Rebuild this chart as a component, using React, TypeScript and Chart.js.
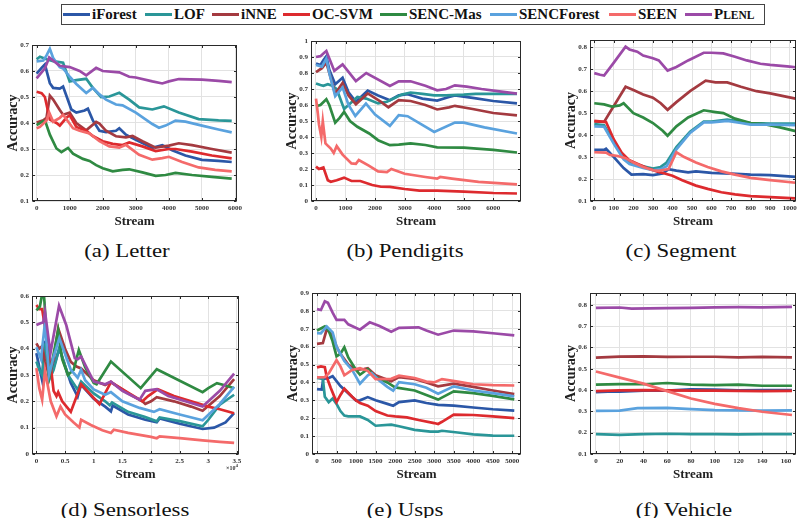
import React, { useEffect, useRef } from "react";
import { Chart, registerables } from "chart.js";
Chart.register(...registerables);

const SERIES = ["iForest", "LOF", "iNNE", "OC-SVM", "SENC-Mas", "SENCForest", "SEEN", "PLENL"];
const COLORS = ["#2b57a7", "#2a9698", "#a43a40", "#dd2a2e", "#2f8a42", "#5aa2de", "#f46a6a", "#9b4aa7"];
const SERIF = "'Liberation Serif', 'Times New Roman', serif";

type Pts = number[][];

// x tick values of each panel
const letterXTicks = [0, 1000, 2000, 3000, 4000, 5000, 6000];
const pendXTicks = [0, 1000, 2000, 3000, 4000, 5000, 6000];
const segXTicks = [0, 100, 200, 300, 400, 500, 600, 700, 800, 900, 1000];
const sensXTicks = [0, 0.5, 1, 1.5, 2, 2.5, 3, 3.5];
const uspsXTicks = [0, 500, 1000, 1500, 2000, 2500, 3000, 3500, 4000, 4500, 5000];
const vehXTicks = [0, 20, 40, 60, 80, 100, 120, 140, 160];

// ---------- (a) Letter ----------
const letterIForest: Pts = [[0,.59],[150,.612],[250,.625],[400,.553],[500,.535],[700,.532],[800,.54],[1050,.452],[1200,.44],[1450,.448],[1550,.455],[1700,.41],[1900,.37],[2100,.365],[2400,.37],[2500,.38],[2700,.355],[3000,.335],[3500,.305],[3800,.315],[4100,.295],[4500,.275],[5000,.258],[5500,.254],[5900,.25]];
const letterLOF: Pts = [[0,.645],[100,.655],[300,.645],[500,.638],[800,.632],[1000,.56],[1200,.565],[1500,.57],[1700,.535],[1950,.5],[2200,.502],[2500,.516],[2800,.49],[3100,.46],[3500,.452],[3850,.464],[4300,.44],[4900,.415],[5500,.41],[5900,.408]];
const letterINNE: Pts = [[0,.402],[200,.41],[300,.42],[400,.505],[500,.49],[700,.45],[800,.432],[1000,.44],[1200,.4],[1500,.372],[1800,.404],[1900,.398],[2100,.37],[2400,.349],[2700,.345],[2900,.35],[3200,.33],[3600,.305],[4000,.313],[4300,.322],[4700,.315],[5300,.3],[5900,.286]];
const letterOCSVM: Pts = [[0,.52],[150,.515],[250,.5],[400,.413],[600,.4],[700,.39],[900,.42],[1000,.43],[1200,.385],[1500,.37],[1700,.35],[2000,.33],[2300,.32],[2600,.315],[2800,.325],[3200,.31],[3600,.292],[4000,.3],[4200,.3],[4700,.29],[5300,.275],[5900,.264]];
const letterSENCMas: Pts = [[0,.392],[200,.407],[280,.4],[400,.355],[600,.302],[750,.288],[950,.304],[1100,.282],[1400,.262],[1600,.254],[1800,.238],[2000,.226],[2300,.214],[2600,.22],[2800,.222],[3200,.21],[3600,.197],[3900,.2],[4200,.208],[4700,.2],[5300,.193],[5900,.186]];
const letterSENCForest: Pts = [[0,.637],[200,.64],[300,.66],[400,.685],[500,.65],[700,.615],[800,.61],[1000,.578],[1200,.55],[1500,.515],[1700,.535],[1900,.51],[2100,.49],[2400,.471],[2600,.468],[3000,.44],[3500,.396],[3700,.382],[3900,.39],[4200,.409],[4500,.405],[5000,.39],[5500,.375],[5900,.364]];
const letterSEEN: Pts = [[0,.38],[100,.385],[300,.41],[380,.44],[500,.405],[700,.42],[800,.432],[1100,.38],[1300,.37],[1600,.36],[1900,.33],[2200,.31],[2500,.305],[2700,.316],[3100,.278],[3500,.259],[3800,.265],[4000,.27],[4400,.25],[4900,.229],[5400,.22],[5900,.214]];
const letterPLENL: Pts = [[0,.572],[150,.595],[250,.61],[380,.652],[500,.64],[700,.62],[1000,.615],[1300,.6],[1500,.583],[1800,.612],[2000,.6],[2500,.595],[2800,.578],[3000,.575],[3500,.56],[3800,.552],[4000,.56],[4300,.569],[5000,.567],[5500,.562],[5900,.557]];

// ---------- (b) Pendigits ----------
const pendIForest: Pts = [[0,.86],[150,.85],[250,.88],[350,.905],[450,.82],[650,.73],[900,.77],[1100,.68],[1350,.62],[1750,.69],[2100,.66],[2500,.63],[2800,.66],[3100,.667],[3600,.64],[4100,.628],[4500,.65],[4700,.66],[5300,.645],[6000,.625],[6800,.61]];
const pendLOF: Pts = [[0,.735],[150,.725],[250,.72],[400,.73],[550,.72],[700,.7],[950,.575],[1100,.6],[1400,.65],[1700,.64],[2100,.61],[2400,.62],[2900,.665],[3200,.678],[3600,.67],[4000,.66],[4400,.66],[5000,.665],[5400,.67],[6800,.67]];
const pendINNE: Pts = [[0,.805],[200,.83],[350,.865],[450,.8],[650,.67],[900,.738],[1100,.66],[1350,.605],[1750,.672],[2200,.62],[2450,.586],[2800,.63],[3200,.625],[3700,.6],[4100,.572],[4500,.585],[4700,.595],[5300,.575],[6000,.55],[6800,.535]];
const pendOCSVM: Pts = [[0,.215],[100,.2],[250,.21],[400,.13],[500,.12],[700,.13],[950,.146],[1200,.125],[1500,.125],[1900,.1],[2200,.089],[2500,.088],[3000,.075],[3500,.065],[4100,.065],[5000,.058],[6000,.05],[6800,.047]];
const pendSENCMas: Pts = [[0,.592],[150,.6],[350,.636],[450,.6],[650,.49],[800,.52],[950,.557],[1150,.5],[1400,.464],[1800,.422],[2100,.38],[2500,.349],[2800,.352],[3200,.36],[3700,.35],[4100,.335],[5000,.333],[6000,.32],[6800,.303]];
const pendSENCForest: Pts = [[0,.85],[200,.84],[350,.89],[450,.8],[650,.655],[900,.71],[1100,.6],[1330,.532],[1690,.609],[2000,.54],[2500,.47],[2800,.536],[3100,.53],[4000,.432],[4700,.49],[5000,.49],[5700,.46],[6800,.422]];
const pendSEEN: Pts = [[0,.64],[60,.55],[100,.48],[180,.4],[230,.5],[320,.36],[500,.328],[600,.3],[700,.343],[900,.29],[1200,.235],[1350,.232],[1450,.256],[1800,.22],[2100,.185],[2400,.18],[2550,.2],[3000,.17],[3700,.15],[4100,.14],[4200,.15],[4600,.14],[5500,.12],[6800,.104]];
const pendPLENL: Pts = [[0,.9],[150,.905],[260,.923],[350,.937],[620,.813],[900,.854],[1350,.75],[1700,.8],[2500,.719],[2800,.748],[3200,.748],[3700,.72],[4100,.692],[4400,.7],[4700,.723],[5100,.715],[5600,.7],[6200,.685],[6800,.671]];

// ---------- (c) Segment ----------
const segIForest: Pts = [[0,.333],[50,.333],[60,.338],[100,.3],[150,.25],[190,.22],[250,.222],[300,.218],[350,.225],[380,.245],[420,.238],[480,.23],[520,.235],[600,.228],[700,.225],[800,.22],[900,.218],[1030,.21]];
const segLOF: Pts = [[0,.45],[50,.445],[100,.37],[150,.3],[180,.275],[250,.258],[300,.248],[340,.255],[370,.275],[420,.345],[490,.415],[560,.462],[600,.462],[680,.47],[750,.462],[800,.455],[900,.452],[1030,.452]];
const segINNE: Pts = [[0,.462],[50,.46],[160,.62],[200,.605],[250,.585],[300,.57],[340,.545],[375,.515],[420,.55],[490,.6],[570,.648],[620,.64],[680,.64],[750,.62],[830,.6],[900,.59],[980,.575],[1030,.566]];
const segOCSVM: Pts = [[0,.465],[60,.46],[100,.38],[140,.32],[180,.285],[220,.27],[270,.25],[320,.235],[360,.225],[400,.215],[450,.195],[520,.17],[580,.155],[650,.14],[720,.13],[800,.122],[900,.118],[1030,.112]];
const segSENCMas: Pts = [[0,.545],[50,.54],[90,.53],[130,.535],[150,.545],[200,.5],[250,.48],[300,.455],[350,.42],[375,.397],[420,.44],[480,.48],[560,.513],[620,.505],[660,.5],[720,.475],[800,.455],[870,.45],[950,.435],[1030,.418]];
const segSENCForest: Pts = [[0,.44],[50,.438],[100,.36],[150,.29],[180,.268],[250,.25],[300,.24],[340,.245],[370,.258],[420,.335],[490,.41],[560,.458],[600,.458],[680,.465],[750,.455],[800,.448],[900,.448],[1030,.445]];
const segSEEN: Pts = [[0,.322],[60,.32],[80,.31],[120,.305],[160,.295],[200,.275],[250,.255],[300,.24],[330,.237],[380,.245],[420,.322],[460,.3],[520,.275],[580,.255],[650,.235],[720,.22],[800,.205],[900,.195],[1030,.183]];
const segPLENL: Pts = [[0,.682],[30,.675],[50,.671],[100,.73],[160,.803],[180,.79],[220,.78],[250,.762],[300,.75],[330,.74],[375,.694],[420,.71],[480,.74],[560,.775],[600,.775],[660,.772],[720,.757],[780,.74],[850,.725],[900,.72],[1000,.712],[1030,.709]];

// ---------- (d) Sensorless (x in units of 10^4) ----------
const sensIForest: Pts = [[0,.383],[0.05,.33],[0.1,.28],[0.15,.43],[0.22,.3],[0.3,.33],[0.4,.4],[0.6,.27],[0.72,.218],[0.78,.263],[1.0,.21],[1.2,.18],[1.3,.162],[1.33,.184],[1.6,.15],[1.9,.13],[2.1,.121],[2.15,.135],[2.5,.115],[2.9,.095],[3.1,.1],[3.3,.12],[3.45,.155]];
const sensLOF: Pts = [[0,.351],[0.05,.32],[0.1,.3],[0.15,.42],[0.22,.28],[0.3,.32],[0.4,.404],[0.55,.3],[0.72,.244],[0.78,.275],[1.0,.23],[1.2,.2],[1.28,.185],[1.32,.196],[1.6,.16],[1.9,.14],[2.1,.124],[2.15,.139],[2.5,.125],[2.9,.105],[3.0,.13],[3.2,.187],[3.45,.225]];
const sensINNE: Pts = [[0,.42],[0.05,.4],[0.1,.41],[0.15,.35],[0.22,.3],[0.3,.36],[0.38,.477],[0.5,.4],[0.6,.35],[0.7,.332],[0.78,.325],[1.0,.28],[1.2,.262],[1.3,.273],[1.6,.23],[1.85,.2],[1.9,.19],[2.0,.2],[2.1,.216],[2.4,.2],[2.7,.18],[2.9,.164],[3.2,.22],[3.45,.284]];
const sensOCSVM: Pts = [[0,.566],[0.05,.55],[0.1,.55],[0.15,.48],[0.22,.39],[0.3,.24],[0.35,.22],[0.38,.235],[0.45,.2],[0.6,.16],[0.78,.265],[1.1,.189],[1.3,.273],[1.85,.2],[1.95,.22],[2.12,.246],[2.4,.22],[2.7,.2],[3.0,.18],[3.2,.17],[3.45,.155]];
const sensSENCMas: Pts = [[0,.545],[0.06,.56],[0.12,.63],[0.14,.58],[0.22,.29],[0.3,.38],[0.38,.47],[0.45,.36],[0.55,.3],[0.65,.32],[0.74,.395],[0.85,.33],[1.0,.27],[1.05,.265],[1.3,.351],[1.82,.25],[2.1,.322],[2.9,.235],[3.0,.25],[3.15,.269],[3.3,.26],[3.45,.25]];
const sensSENCForest: Pts = [[0,.405],[0.08,.36],[0.15,.5],[0.22,.3],[0.3,.37],[0.4,.44],[0.5,.38],[0.6,.32],[0.72,.29],[0.78,.32],[0.85,.28],[1.0,.245],[1.2,.225],[1.3,.235],[1.5,.2],[1.8,.175],[2.05,.16],[2.15,.17],[2.5,.15],[2.9,.128],[3.2,.19],[3.45,.255]];
const sensSEEN: Pts = [[0,.326],[0.05,.25],[0.1,.206],[0.15,.316],[0.25,.2],[0.35,.143],[0.42,.18],[0.5,.15],[0.65,.12],[0.75,.101],[0.78,.13],[0.95,.11],[1.15,.09],[1.3,.08],[1.35,.092],[1.6,.08],[2.0,.065],[2.1,.06],[2.15,.067],[2.5,.06],[2.9,.052],[3.2,.046],[3.45,.042]];
const sensPLENL: Pts = [[0,.49],[0.05,.495],[0.12,.5],[0.15,.54],[0.245,.383],[0.3,.45],[0.395,.563],[0.52,.49],[0.67,.364],[0.72,.36],[0.78,.37],[1.0,.275],[1.2,.265],[1.3,.275],[1.5,.24],[1.8,.206],[1.9,.24],[2.1,.246],[2.3,.22],[2.6,.2],[2.9,.18],[3.2,.24],[3.45,.305]];

// ---------- (e) Usps ----------
const uspsIForest: Pts = [[0,.363],[120,.36],[160,.42],[300,.425],[400,.435],[600,.38],[800,.34],[1000,.298],[1100,.3],[1300,.318],[1500,.3],[1800,.28],[1950,.27],[2100,.29],[2500,.3],[2800,.285],[3100,.275],[3500,.27],[4000,.26],[4500,.25],[5050,.242]];
const uspsLOF: Pts = [[0,.425],[150,.42],[200,.32],[300,.29],[400,.31],[500,.28],[600,.24],[700,.215],[800,.21],[1100,.21],[1300,.19],[1500,.158],[1900,.164],[2100,.155],[2500,.135],[2900,.125],[3100,.125],[3200,.13],[3600,.12],[4000,.11],[4500,.103],[5050,.102]];
const uspsINNE: Pts = [[0,.616],[150,.62],[250,.698],[400,.66],[500,.6],[600,.56],[800,.5],[1000,.47],[1200,.475],[1300,.48],[1500,.44],[1900,.406],[2100,.43],[2500,.42],[2800,.4],[3100,.378],[3500,.393],[4000,.375],[4500,.355],[5050,.335]];
const uspsOCSVM: Pts = [[0,.484],[100,.49],[200,.485],[250,.43],[350,.37],[500,.29],[600,.33],[700,.365],[900,.32],[1000,.3],[1100,.285],[1300,.27],[1500,.24],[1800,.215],[2000,.21],[2300,.205],[2600,.19],[3000,.173],[3100,.168],[3200,.18],[3500,.22],[4000,.218],[4500,.21],[5050,.201]];
const uspsSENCMas: Pts = [[0,.69],[200,.713],[300,.69],[400,.63],[500,.546],[600,.56],[700,.596],[800,.54],[1000,.47],[1100,.443],[1300,.475],[1500,.43],[1800,.4],[2000,.372],[2500,.355],[3100,.304],[3500,.35],[4000,.34],[4500,.325],[5050,.305]];
const uspsSENCForest: Pts = [[0,.676],[100,.675],[250,.713],[400,.68],[500,.6],[700,.52],[900,.47],[1100,.393],[1300,.44],[1400,.452],[1600,.41],[1800,.375],[1950,.354],[2100,.402],[2500,.39],[2800,.37],[3100,.337],[3500,.378],[4000,.355],[4500,.34],[5050,.322]];
const uspsSEEN: Pts = [[0,.428],[200,.43],[300,.45],[500,.525],[600,.49],[700,.44],[900,.47],[1100,.48],[1300,.465],[1500,.418],[1900,.42],[2100,.438],[2500,.425],[2800,.405],[3000,.4],[3200,.419],[3600,.405],[4000,.39],[4500,.385],[5050,.383]];
const uspsPLENL: Pts = [[0,.81],[100,.805],[200,.853],[280,.845],[400,.79],[500,.75],[700,.75],[800,.725],[1100,.695],[1350,.736],[1600,.715],[1900,.683],[2100,.705],[2600,.708],[2800,.69],[3100,.667],[3500,.69],[4000,.685],[4500,.675],[5050,.663]];

// ---------- (f) Vehicle ----------
const vehIForest: Pts = [[0,.39],[10,.392],[20,.392],[40,.397],[60,.397],[80,.403],[100,.402],[120,.399],[140,.4],[165,.4]];
const vehLOF: Pts = [[0,.193],[20,.19],[40,.193],[60,.195],[80,.193],[100,.193],[120,.192],[140,.193],[165,.193]];
const vehINNE: Pts = [[0,.552],[20,.557],[40,.558],[60,.555],[80,.556],[100,.556],[120,.553],[140,.555],[165,.553]];
const vehOCSVM: Pts = [[0,.395],[20,.398],[40,.4],[60,.398],[80,.397],[100,.397],[120,.396],[140,.395],[165,.396]];
const vehSENCMas: Pts = [[0,.425],[20,.428],[40,.427],[60,.433],[80,.425],[100,.423],[120,.425],[140,.42],[165,.42]];
const vehSENCForest: Pts = [[0,.302],[20,.303],[35,.315],[60,.316],[80,.31],[100,.306],[120,.305],[140,.303],[165,.305]];
const vehSEEN: Pts = [[0,.487],[20,.458],[40,.43],[60,.395],[80,.36],[100,.335],[120,.315],[140,.298],[165,.283]];
const vehPLENL: Pts = [[0,.785],[20,.787],[30,.782],[60,.784],[80,.785],[100,.788],[120,.789],[140,.788],[165,.79]];

type Panel = {
  id: string; caption: string; capX: number; capY: number;
  l: number; t: number; r: number; b: number;
  xmin: number; xmax: number; xTicks: number[];
  ymin: number; ymax: number;
  series: Pts[]; exp?: boolean;
};

const PANELS: Panel[] = [
  { id: "a", caption: "(a) Letter", capX: 127, capY: 251, l: 32, t: 45, r: 237, b: 201, xmin: -140, xmax: 6060, xTicks: letterXTicks, ymin: 0.1, ymax: 0.7,
    series: [letterIForest, letterLOF, letterINNE, letterOCSVM, letterSENCMas, letterSENCForest, letterSEEN, letterPLENL] },
  { id: "b", caption: "(b) Pendigits", capX: 405, capY: 251, l: 311, t: 41, r: 521, b: 201, xmin: -169, xmax: 6936, xTicks: pendXTicks, ymin: 0, ymax: 1,
    series: [pendIForest, pendLOF, pendINNE, pendOCSVM, pendSENCMas, pendSENCForest, pendSEEN, pendPLENL] },
  { id: "c", caption: "(c) Segment", capX: 681, capY: 251, l: 590, t: 40, r: 796, b: 201, xmin: -22, xmax: 1032, xTicks: segXTicks, ymin: 0.1, ymax: 0.833,
    series: [segIForest, segLOF, segINNE, segOCSVM, segSENCMas, segSENCForest, segSEEN, segPLENL] },
  { id: "d", caption: "(d) Sensorless", capX: 125, capY: 510, l: 32, t: 296, r: 239, b: 454, xmin: -0.077, xmax: 3.535, xTicks: sensXTicks, ymin: 0, ymax: 0.6,
    series: [sensIForest, sensLOF, sensINNE, sensOCSVM, sensSENCMas, sensSENCForest, sensSEEN, sensPLENL], exp: true },
  { id: "e", caption: "(e) Usps", capX: 405, capY: 510, l: 312, t: 293, r: 521, b: 454, xmin: -128, xmax: 5222, xTicks: uspsXTicks, ymin: 0, ymax: 0.9,
    series: [uspsIForest, uspsLOF, uspsINNE, uspsOCSVM, uspsSENCMas, uspsSENCForest, uspsSEEN, uspsPLENL] },
  { id: "f", caption: "(f) Vehicle", capX: 684, capY: 510, l: 590, t: 293, r: 796, b: 454, xmin: -5, xmax: 168.4, xTicks: vehXTicks, ymin: 0.1, ymax: 0.855,
    series: [vehIForest, vehLOF, vehINNE, vehOCSVM, vehSENCMas, vehSENCForest, vehSEEN, vehPLENL] },
];

const YW = 32, TOPPAD = 8, XH = 34;
const fmt = (v: any) => String(Number(Number(v).toFixed(3)));

const framePlugin = {
  id: "frame",
  afterDatasetsDraw(chart: any, _a: any, opts: any) {
    const { ctx, chartArea: a, scales } = chart;
    ctx.save();
    ctx.strokeStyle = "#2a2a2a";
    ctx.lineWidth = 1;
    const L = Math.round(a.left) + 0.5, R = Math.round(a.right) - 0.5;
    const T = Math.round(a.top) + 0.5, B = Math.round(a.bottom) - 0.5;
    ctx.strokeRect(L, T, R - L, B - T);
    ctx.beginPath();
    for (const t of scales.x.ticks) {
      const px = Math.round(scales.x.getPixelForValue(t.value)) + 0.5;
      ctx.moveTo(px, B); ctx.lineTo(px, B - 2.5);
      ctx.moveTo(px, T); ctx.lineTo(px, T + 2.5);
    }
    for (const t of scales.y.ticks) {
      const py = Math.round(scales.y.getPixelForValue(t.value)) + 0.5;
      ctx.moveTo(L, py); ctx.lineTo(L + 2.5, py);
      ctx.moveTo(R, py); ctx.lineTo(R - 2.5, py);
    }
    ctx.stroke();
    if (opts && opts.exp) {
      ctx.fillStyle = "#333";
      ctx.font = `bold 6px ${SERIF}`;
      ctx.textAlign = "right";
      ctx.textBaseline = "alphabetic";
      ctx.fillText("×10", R - 3, B + 16);
      ctx.font = `bold 5px ${SERIF}`;
      ctx.textAlign = "left";
      ctx.fillText("4", R - 3, B + 13);
    }
    ctx.restore();
  },
};

function PanelChart({ p }: { p: Panel }) {
  const ref = useRef<HTMLCanvasElement>(null);
  const rp = p.id === "c" || p.id === "f" ? 797 - p.r : 8;
  const w = YW + (p.r - p.l) + rp;
  const h = TOPPAD + (p.b - p.t) + XH;
  useEffect(() => {
    const tickFont = { family: SERIF, size: 7, weight: "bold" as const };
    const chart = new Chart(ref.current!, {
      type: "line",
      data: {
        datasets: p.series.map((pts, i) => ({
          label: SERIES[i],
          data: pts.map(([x, y]) => ({ x, y })),
          borderColor: COLORS[i],
          backgroundColor: COLORS[i],
          borderWidth: 2.7,
          pointRadius: 0,
          tension: 0,
          fill: false,
          order: 8 - i,
        })),
      },
      options: {
        responsive: false,
        animation: false,
        devicePixelRatio: 1,
        layout: { padding: { top: TOPPAD, right: rp, left: 0, bottom: 0 } },
        plugins: { legend: { display: false }, tooltip: { enabled: false }, frame: { exp: !!p.exp } } as any,
        scales: {
          x: {
            type: "linear", min: p.xmin, max: p.xmax,
            afterBuildTicks: (s: any) => { s.ticks = p.xTicks.map((v) => ({ value: v })); },
            afterFit: (s: any) => { s.height = XH; s.paddingLeft = 0; s.paddingRight = 0; },
            ticks: { autoSkip: false, maxRotation: 0, font: tickFont, color: "#333", padding: 3, callback: fmt },
            grid: { color: "#e2e2e2", drawTicks: false, lineWidth: 1 },
            border: { display: false },
            title: { display: true, text: "Stream", color: "#222", font: { family: SERIF, size: 13, weight: "bold" }, padding: { top: 0, bottom: 6 } },
          },
          y: {
            type: "linear", min: p.ymin, max: p.ymax,
            afterFit: (s: any) => { s.width = YW; s.paddingTop = 0; s.paddingBottom = 0; },
            ticks: { stepSize: 0.1, includeBounds: false, autoSkip: false, font: tickFont, color: "#333", padding: 3, callback: fmt },
            grid: { color: "#e2e2e2", drawTicks: false, lineWidth: 1 },
            border: { display: false },
            title: { display: true, text: "Accuracy", color: "#222", font: { family: SERIF, size: 14, weight: "bold" }, padding: { top: 5, bottom: 0 } },
          },
        },
      } as any,
      plugins: [framePlugin],
    });
    return () => chart.destroy();
  }, []);
  return (
    <canvas
      ref={ref}
      width={w}
      height={h}
      style={{ position: "absolute", left: p.l - YW, top: p.t - TOPPAD, width: w, height: h }}
    />
  );
}

const LEGEND_X = [63, 145, 212, 283, 380, 490, 609, 685];

function Legend() {
  return (
    <div style={{ position: "absolute", left: 61, top: 4, width: 704, height: 21, border: "1px solid #444", boxSizing: "border-box", background: "#fff" }}>
      {SERIES.map((s, i) => (
        <div key={s} style={{ position: "absolute", left: LEGEND_X[i] - 62, top: 0, height: 19, whiteSpace: "nowrap" }}>
          <div style={{ position: "absolute", left: 0, top: 8, width: 27, height: 3, background: COLORS[i] }} />
          <div style={{ position: "absolute", left: 29, top: 0, font: `bold 15px ${SERIF}`, lineHeight: "19px", color: "#111" }}>
            {s === "PLENL" ? (<span>P<span style={{ fontSize: 11.5 }}>LENL</span></span>) : s}
          </div>
        </div>
      ))}
    </div>
  );
}

export default function App() {
  return (
    <div style={{ position: "absolute", left: 0, top: 0, width: 797, height: 518, background: "#fff", overflow: "hidden" }}>
      <Legend />
      {PANELS.map((p) => (
        <PanelChart key={p.id} p={p} />
      ))}
      {PANELS.map((p) => (
        <div key={"cap" + p.id} style={{ position: "absolute", left: p.capX - 100, top: p.capY - 11, width: 200, textAlign: "center", font: `19px ${SERIF}`, lineHeight: "22px", color: "#111", transform: "scaleX(1.2)", transformOrigin: "50% 50%" }}>
          {p.caption}
        </div>
      ))}
    </div>
  );
}
